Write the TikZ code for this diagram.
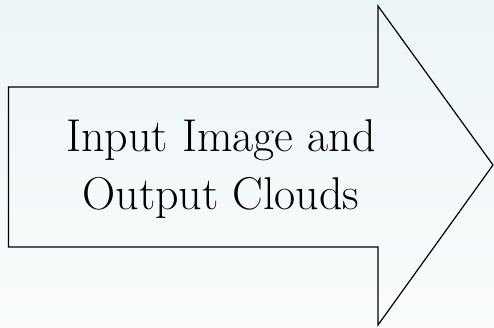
\documentclass[tikz,border=0pt]{standalone}
\usepackage{tikz}

\definecolor{bgtop}{RGB}{236,245,247}
\definecolor{bgbot}{RGB}{250,252,253}

\begin{document}
\begin{tikzpicture}[x=1pt, y=-1pt, arrowline/.style={draw=black, line width=1.2pt, line join=miter}, arrowtext/.style={align=center, font=\fontsize{46}{58}\selectfont}]

\useasboundingbox (0,0) rectangle (494,327);
\shade[top color=bgtop, bottom color=bgbot] (0,0) rectangle (494,327);

% body and head of the big arrow
\draw[arrowline] (8.5,87) -- (378,87) -- (378,6) -- (493,165)
-- (378,325) -- (378,247) -- (8.5,247) -- cycle;

\node[arrowtext] (caption) at (221,169) {Input Image and\\ Output Clouds};

\end{tikzpicture}
\end{document}
